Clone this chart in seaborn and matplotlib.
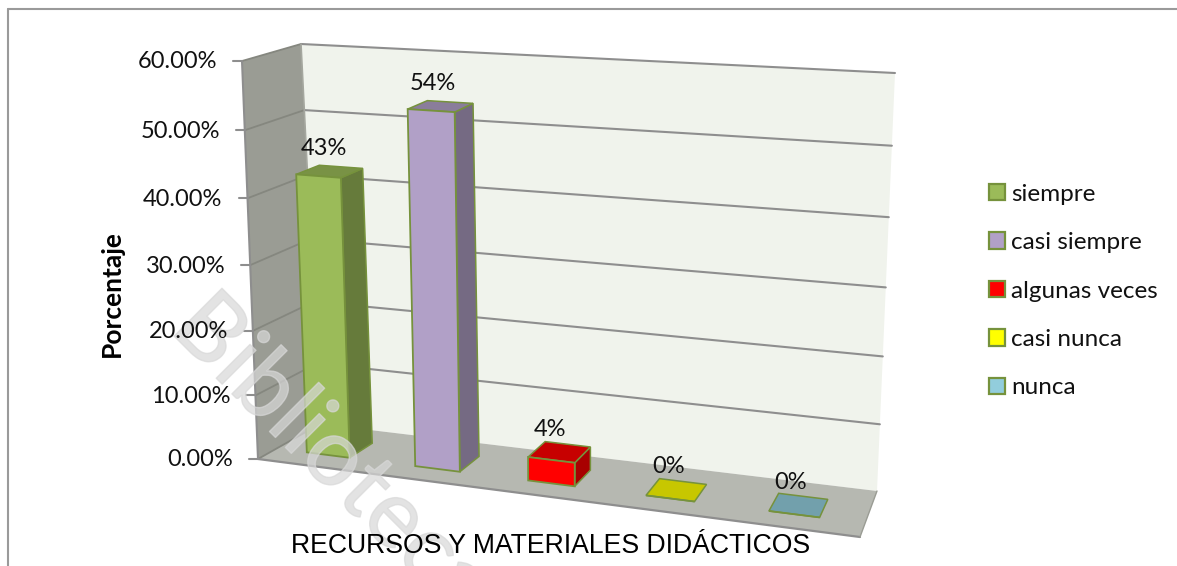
import numpy as np
from matplotlib import pyplot as plt
from matplotlib import patheffects
from matplotlib.patches import Patch, Polygon
from matplotlib.transforms import Affine2D, Transform
import seaborn as sns

categorias = ["siempre", "casi siempre", "algunas veces", "casi nunca", "nunca"]
valores = [42.9, 53.6, 3.6, 0, 0]
colores = ["#9BBB59", "#B1A0C7", "#FF0000", "#FFFF00", "#92CDDC"]
ticks_y = [0, 10, 20, 30, 40, 50, 60]

W, H = 1177, 566
GRIS = "#8E8E8E"
BORDE = "#76923C"
FUENTE = "Lato"

# corners of the 3d box in pixels: (front/back, left/right, bottom/top)
FLB, FLT = np.array([258., 459.]), np.array([242., 61.])
BLB, BLT = np.array([320., 424.]), np.array([301., 44.])
FRB, FRT = np.array([860., 537.]), np.array([879., 99.])
BRB, BRT = np.array([877., 491.]), np.array([895., 73.])

D0, D1 = 0.3, 0.7
ANCHO = 0.40
px = Affine2D().scale(1, -1).translate(0, H)


def proy_u(u, val, d):
    u, val = np.asarray(u, float), np.asarray(val, float)
    v = val / 60
    v = v / (1.053 - 0.053 * v)
    izq = (1 - d) * ((1 - v)[..., None] * FLB + v[..., None] * FLT) + d * ((1 - v)[..., None] * BLB + v[..., None] * BLT)
    der = (1 - d) * ((1 - v)[..., None] * FRB + v[..., None] * FRT) + d * ((1 - v)[..., None] * BRB + v[..., None] * BRT)
    return (1 - u)[..., None] * izq + u[..., None] * der


def proy(x, val, d):
    x = np.asarray(x, float)
    # bars get wider to the right, the floor comes towards the viewer
    u = (0.0876 + 0.1802 * x) / (1 - 0.0202 * x)
    return proy_u(u, val, d)


class Frente(Transform):
    input_dims = 2
    output_dims = 2
    is_affine = False
    has_inverse = False

    def transform_non_affine(self, values):
        values = np.asarray(values, float)
        return proy(values[:, 0], values[:, 1], D0)


def oscurecer(color, f):
    return tuple(c * f for c in plt.matplotlib.colors.to_rgb(color))


def cara(ax, pts, color, z):
    ax.add_patch(Polygon(pts, closed=True, facecolor=color, edgecolor=BORDE, linewidth=1.1,
                         transform=px, clip_on=False, zorder=z))


def linea(ax, a, b, color=GRIS, lw=1.5, z=3):
    ax.plot([a[0], b[0]], [a[1], b[1]], color=color, lw=lw, transform=px, clip_on=False, zorder=z)


sns.set_style("white")
plt.rcParams["font.family"] = [FUENTE, "DejaVu Sans"]

fig = plt.figure(figsize=(W / 100, H / 100), dpi=100)
ax = fig.add_axes([0, 0, 1, 1])

sns.barplot(x=categorias, y=valores, hue=categorias, palette=colores, saturation=1, width=ANCHO,
            edgecolor=BORDE, linewidth=1.3, legend=False, ax=ax)
frente = Frente() + px
for b in ax.patches:
    b.set_transform(frente)
    b.set_clip_on(False)
    b.set_zorder(6)
ax.axis("off")

# chart frame
linea(ax, (8, 9), (W, 9), color="#9A9A9A", lw=1.5)
linea(ax, (8, 9), (8, H), color="#9A9A9A", lw=1.5)

# walls and floor
for pts, color in [((BLB, BLT, BRT, BRB), "#F0F3EC"),
                   ((FLB, FLT, BLT, BLB), "#9A9C94"),
                   ((FLB, BLB, BRB, FRB), "#B6B8B1")]:
    ax.add_patch(Polygon(np.array(pts), closed=True, facecolor=color, edgecolor="none",
                         transform=px, clip_on=False, zorder=2))

# gridlines, ticks, tick labels
for t in ticks_y:
    fl = proy_u(0, t, 0.0)
    bl = proy_u(0, t, 1.0)
    br = proy_u(1, t, 1.0)
    linea(ax, fl, bl, color="#85877F", lw=1.3)
    if t > 0:
        linea(ax, bl, br)
    linea(ax, fl - [9, 0], fl, lw=1.5)
    ax.text(fl[0] - 25, fl[1] + 1, f"{t:.2f}%", ha="right", va="center", fontsize=17,
            color="#111111", transform=px, zorder=9)

linea(ax, FLB, FLT, lw=1.5)
linea(ax, BLB, BLT, color="#A5A79F", lw=1.2)
linea(ax, FLB, FRB, lw=1.6, z=4)
linea(ax, FRB, BRB, color="#9A9C94", lw=1.0, z=4)

# 3d faces of the bars
for i, (v, c) in enumerate(zip(valores, colores)):
    x0, x1 = i - ANCHO / 2, i + ANCHO / 2
    if v > 0:
        lado = np.array([proy(x1, 0, D0), proy(x1, 0, D1), proy(x1, v, D1), proy(x1, v, D0)])
        cara(ax, lado, oscurecer(c, 0.66), 5)
    tapa = np.array([proy(x0, v, D0), proy(x1, v, D0), proy(x1, v, D1), proy(x0, v, D1)])
    cara(ax, tapa, oscurecer(c, 0.78), 5)

# data labels
desp_x = [-6, -8, -10, -8, -8]
for i, v in enumerate(valores):
    p = proy(i, v, 0.5)
    ax.text(p[0] + desp_x[i], p[1] - 23, f"{v:.0f}%", ha="center", va="center", fontsize=17,
            color="#111111", transform=px, zorder=9)

# axis titles
ax.text(112, 294, "Porcentaje", rotation=90, ha="center", va="center", fontsize=19,
        fontweight="bold", color="black", transform=px, zorder=9)
ax.text(551, 546, "RECURSOS Y MATERIALES DIDÁCTICOS", ha="center", va="center", fontsize=19.2,
        family="Liberation Sans", color="black", transform=px, zorder=9)

# legend
manijas = [Patch(facecolor=c, edgecolor=BORDE, linewidth=1.6, label=n) for n, c in zip(categorias, colores)]
ax.legend(handles=manijas, loc="center left", bbox_to_anchor=(989 / W, 1 - 291 / H), frameon=False,
          fontsize=17.5, labelspacing=1.13, handlelength=0.66, handleheight=0.66, handletextpad=0.25,
          borderaxespad=0, borderpad=0, labelcolor="#111111").set_zorder(9)

# watermark
marca = ax.text(168, 330, "Biblioteca", rotation=-45, rotation_mode="anchor", ha="left", va="baseline",
                fontsize=68, color="#D8D8D8", alpha=0.7, transform=px, clip_on=True, zorder=8)
marca.set_path_effects([patheffects.Stroke(linewidth=1.0, foreground="#D8D8D8")])

fig.savefig("out.png", dpi=100)
